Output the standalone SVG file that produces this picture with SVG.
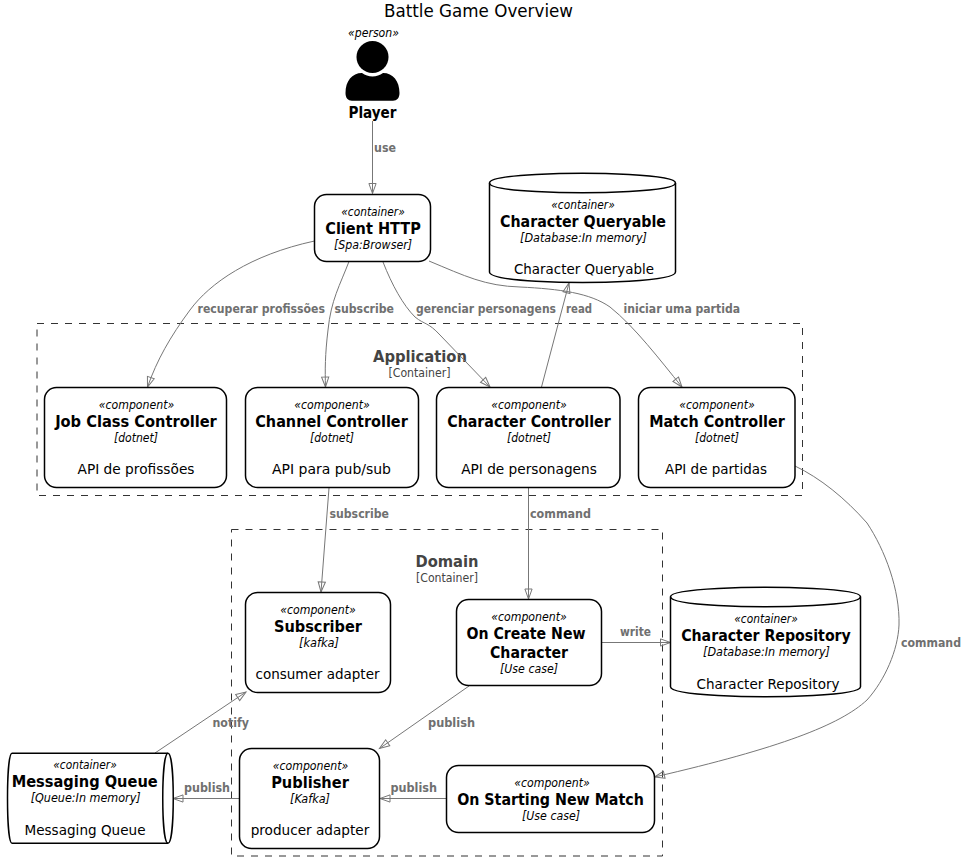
<svg xmlns="http://www.w3.org/2000/svg" width="968" height="861" viewBox="0 0 968 861">
<style>
text{font-family:"DejaVu Sans","Liberation Sans",sans-serif;text-anchor:middle;fill:#000}
.title{font-size:18px}
.st{font-size:12px;font-style:italic}
.nm{font-size:16px;font-weight:bold;font-stretch:condensed}
.te{font-size:12px;font-style:italic}
.de{font-size:14px}
.lb{font-size:12px;font-weight:bold;font-stretch:condensed;fill:#707070;text-anchor:start}
.bt{font-size:16px;font-weight:bold;font-stretch:condensed;fill:#444}
.bs{font-size:12px;fill:#444}
.box{fill:#fff;stroke:#000;stroke-width:1.5}
.frame{fill:none;stroke:#333;stroke-width:1;stroke-dasharray:7 7}
.c{fill:none;stroke:#777;stroke-width:1;marker-end:url(#a)}
</style>
<defs>
<marker id="a" markerUnits="userSpaceOnUse" markerWidth="14" markerHeight="12" refX="11" refY="5" orient="auto">
<path d="M1,1.4 L11,5 L1,8.6 Z" fill="none" stroke="#777" stroke-width="1"/>
</marker>
</defs>
<rect width="968" height="861" fill="#fff"/>
<text class="title" x="478.5" y="17" textLength="189" lengthAdjust="spacingAndGlyphs">Battle Game Overview</text>

<g id="boundary-application">
<rect class="frame" x="37" y="323.5" width="765.5" height="172"/>
<text class="bt" x="420" y="362" textLength="94" lengthAdjust="spacingAndGlyphs">Application</text>
<text class="bs" x="419.5" y="377" textLength="62" lengthAdjust="spacingAndGlyphs">[Container]</text>
</g>
<g id="boundary-domain">
<rect class="frame" x="231.5" y="529.5" width="431" height="326.5"/>
<text class="bt" x="447" y="567" textLength="63" lengthAdjust="spacingAndGlyphs">Domain</text>
<text class="bs" x="447" y="582" textLength="62" lengthAdjust="spacingAndGlyphs">[Container]</text>
</g>

<g id="connectors">
<path class="c" d="M372.5,121 L372.5,193.5"/>
<path class="c" d="M314.5,241 C250,255 210,283 190,310 C170,337 157,360 147.5,387"/>
<path class="c" d="M349,261.5 C340,285 331,300 328,330 C325,355 325,370 325.5,387"/>
<path class="c" d="M383,262 C392,285 403,305 415,317 C425,325 428,322 440,335 L490,387"/>
<path class="c" d="M429,261 C465,276 485,286 520,287 C560,289 590,293 610,307 C635,327 660,360 682,387"/>
<path class="c" d="M541.5,387 L569,283"/>
<path class="c" d="M329,488 L321,592"/>
<path class="c" d="M528.5,488 L528.5,599"/>
<path class="c" d="M602,642.5 L670.5,642.5"/>
<path class="c" d="M469,686 L379.5,748.5"/>
<path class="c" d="M446,798.5 L380,798.5"/>
<path class="c" d="M239,798.5 L173,798.5"/>
<path class="c" d="M155,753 L246,692"/>
<path class="c" d="M795,466 C820,478 845,498 867,523 C885,550 900,590 899,625 C898,650 885,680 867,700 C840,725 780,748 654.5,777"/>
<text class="lb" x="374" y="152" textLength="22" lengthAdjust="spacingAndGlyphs">use</text>
<text class="lb" x="197.5" y="313" textLength="127.5" lengthAdjust="spacingAndGlyphs">recuperar profissões</text>
<text class="lb" x="334.5" y="313" textLength="59.5" lengthAdjust="spacingAndGlyphs">subscribe</text>
<text class="lb" x="416" y="313" textLength="140" lengthAdjust="spacingAndGlyphs">gerenciar personagens</text>
<text class="lb" x="566" y="313" textLength="26" lengthAdjust="spacingAndGlyphs">read</text>
<text class="lb" x="623.5" y="313" textLength="116.5" lengthAdjust="spacingAndGlyphs">iniciar uma partida</text>
<text class="lb" x="329.5" y="518" textLength="59.5" lengthAdjust="spacingAndGlyphs">subscribe</text>
<text class="lb" x="530" y="518" textLength="61" lengthAdjust="spacingAndGlyphs">command</text>
<text class="lb" x="620" y="636" textLength="31" lengthAdjust="spacingAndGlyphs">write</text>
<text class="lb" x="901" y="647" textLength="60" lengthAdjust="spacingAndGlyphs">command</text>
<text class="lb" x="428" y="727" textLength="47" lengthAdjust="spacingAndGlyphs">publish</text>
<text class="lb" x="212.5" y="727" textLength="36.5" lengthAdjust="spacingAndGlyphs">notify</text>
<text class="lb" x="184" y="792" textLength="46" lengthAdjust="spacingAndGlyphs">publish</text>
<text class="lb" x="390.5" y="792" textLength="46.5" lengthAdjust="spacingAndGlyphs">publish</text>
</g>

<g id="player">
<text class="st" x="373.5" y="37" textLength="51" lengthAdjust="spacingAndGlyphs">«person»</text>
<circle cx="372.5" cy="57" r="16"/>
<path d="M345.5,93 C345.5,81 352,73 362,73 A18,18 0 0 0 383,73 C393,73 399.5,81 399.5,93 C399.5,98 397,100.7 393,100.7 L352,100.7 C348,100.7 345.5,98 345.5,93 Z"/>
<text class="nm" x="372.5" y="118" textLength="48" lengthAdjust="spacingAndGlyphs">Player</text>
</g>

<g id="client-http">
<rect class="box" x="314.5" y="194.5" width="116" height="67" rx="12"/>
<text class="st" x="373" y="216" textLength="63.5" lengthAdjust="spacingAndGlyphs">«container»</text>
<text class="nm" x="373" y="234" textLength="95.5" lengthAdjust="spacingAndGlyphs">Client HTTP</text>
<text class="te" x="373" y="249" textLength="78" lengthAdjust="spacingAndGlyphs">[Spa:Browser]</text>
</g>

<g id="character-queryable">
<path class="box" d="M489.5,183 C489.5,173.3 582.5,173.3 582.5,173.3 C582.5,173.3 675.5,173.3 675.5,183 L675.5,272 C675.5,282.5 582.5,282.5 582.5,282.5 C582.5,282.5 489.5,282.5 489.5,272 Z"/>
<path class="box" style="fill:none" d="M489.5,183 C489.5,192.7 582.5,192.7 582.5,192.7 C582.5,192.7 675.5,192.7 675.5,183"/>
<text class="st" x="583" y="209" textLength="63.5" lengthAdjust="spacingAndGlyphs">«container»</text>
<text class="nm" x="583" y="227" textLength="166" lengthAdjust="spacingAndGlyphs">Character Queryable</text>
<text class="te" x="583.5" y="242" textLength="127" lengthAdjust="spacingAndGlyphs">[Database:In memory]</text>
<text class="de" x="584" y="274" textLength="140" lengthAdjust="spacingAndGlyphs">Character Queryable</text>
</g>

<g id="job-class-controller">
<rect class="box" x="44.5" y="387.5" width="182" height="100" rx="12"/>
<text class="st" x="136.5" y="409" textLength="75.5" lengthAdjust="spacingAndGlyphs">«component»</text>
<text class="nm" x="136" y="427" textLength="161.7" lengthAdjust="spacingAndGlyphs">Job Class Controller</text>
<text class="te" x="136" y="442" textLength="44" lengthAdjust="spacingAndGlyphs">[dotnet]</text>
<text class="de" x="136" y="474" textLength="117" lengthAdjust="spacingAndGlyphs">API de profissões</text>
</g>

<g id="channel-controller">
<rect class="box" x="245.5" y="387.5" width="173" height="100" rx="12"/>
<text class="st" x="332" y="409" textLength="75.5" lengthAdjust="spacingAndGlyphs">«component»</text>
<text class="nm" x="331.5" y="427" textLength="152.5" lengthAdjust="spacingAndGlyphs">Channel Controller</text>
<text class="te" x="332" y="442" textLength="44" lengthAdjust="spacingAndGlyphs">[dotnet]</text>
<text class="de" x="331.5" y="474" textLength="119" lengthAdjust="spacingAndGlyphs">API para pub/sub</text>
</g>

<g id="character-controller">
<rect class="box" x="436.5" y="387.5" width="183.5" height="100" rx="12"/>
<text class="st" x="529" y="409" textLength="75.5" lengthAdjust="spacingAndGlyphs">«component»</text>
<text class="nm" x="529" y="427" textLength="163.4" lengthAdjust="spacingAndGlyphs">Character Controller</text>
<text class="te" x="529" y="442" textLength="44" lengthAdjust="spacingAndGlyphs">[dotnet]</text>
<text class="de" x="529" y="474" textLength="135.7" lengthAdjust="spacingAndGlyphs">API de personagens</text>
</g>

<g id="match-controller">
<rect class="box" x="638.5" y="387.5" width="156.5" height="100" rx="12"/>
<text class="st" x="717" y="409" textLength="75.5" lengthAdjust="spacingAndGlyphs">«component»</text>
<text class="nm" x="717" y="427" textLength="135.7" lengthAdjust="spacingAndGlyphs">Match Controller</text>
<text class="te" x="717" y="442" textLength="44" lengthAdjust="spacingAndGlyphs">[dotnet]</text>
<text class="de" x="716" y="474" textLength="102" lengthAdjust="spacingAndGlyphs">API de partidas</text>
</g>

<g id="subscriber">
<rect class="box" x="245.5" y="592.5" width="145" height="100" rx="12"/>
<text class="st" x="318" y="614" textLength="75.5" lengthAdjust="spacingAndGlyphs">«component»</text>
<text class="nm" x="318" y="632" textLength="88" lengthAdjust="spacingAndGlyphs">Subscriber</text>
<text class="te" x="319" y="647" textLength="40" lengthAdjust="spacingAndGlyphs">[kafka]</text>
<text class="de" x="317.5" y="679" textLength="124" lengthAdjust="spacingAndGlyphs">consumer adapter</text>
</g>

<g id="on-create-new-character">
<rect class="box" x="456.5" y="599.5" width="145" height="86" rx="12"/>
<text class="st" x="529" y="621" textLength="75.5" lengthAdjust="spacingAndGlyphs">«component»</text>
<text class="nm" x="526" y="639" textLength="119" lengthAdjust="spacingAndGlyphs">On Create New</text>
<text class="nm" x="529" y="658" textLength="78" lengthAdjust="spacingAndGlyphs">Character</text>
<text class="te" x="529" y="673" textLength="58" lengthAdjust="spacingAndGlyphs">[Use case]</text>
</g>

<g id="character-repository">
<path class="box" d="M670.5,596.7 C670.5,587.3 765.5,587.3 765.5,587.3 C765.5,587.3 860.5,587.3 860.5,596.7 L860.5,686.7 C860.5,696.7 765.5,696.7 765.5,696.7 C765.5,696.7 670.5,696.7 670.5,686.7 Z"/>
<path class="box" style="fill:none" d="M670.5,596.7 C670.5,606.7 765.5,606.7 765.5,606.7 C765.5,606.7 860.5,606.7 860.5,596.7"/>
<text class="st" x="766" y="623" textLength="63.5" lengthAdjust="spacingAndGlyphs">«container»</text>
<text class="nm" x="766" y="641" textLength="169.7" lengthAdjust="spacingAndGlyphs">Character Repository</text>
<text class="te" x="766.5" y="656" textLength="127" lengthAdjust="spacingAndGlyphs">[Database:In memory]</text>
<text class="de" x="768" y="689" textLength="143" lengthAdjust="spacingAndGlyphs">Character Repository</text>
</g>

<g id="publisher">
<rect class="box" x="239.5" y="748.5" width="140" height="100" rx="12"/>
<text class="st" x="310.5" y="770" textLength="75.5" lengthAdjust="spacingAndGlyphs">«component»</text>
<text class="nm" x="310" y="788" textLength="77.7" lengthAdjust="spacingAndGlyphs">Publisher</text>
<text class="te" x="310" y="803" textLength="40" lengthAdjust="spacingAndGlyphs">[Kafka]</text>
<text class="de" x="310" y="835" textLength="118.7" lengthAdjust="spacingAndGlyphs">producer adapter</text>
</g>

<g id="on-starting-new-match">
<rect class="box" x="446.5" y="765.5" width="208" height="67" rx="12"/>
<text class="st" x="552" y="787" textLength="75.5" lengthAdjust="spacingAndGlyphs">«component»</text>
<text class="nm" x="550.5" y="805" textLength="186.7" lengthAdjust="spacingAndGlyphs">On Starting New Match</text>
<text class="te" x="551" y="820" textLength="58" lengthAdjust="spacingAndGlyphs">[Use case]</text>
</g>

<g id="messaging-queue">
<path class="box" d="M12,753.3 L168,753.3 C175,753.3 175,843.3 168,843.3 L12,843.3 C6,843.3 6,753.3 12,753.3 Z"/>
<path class="box" style="fill:none" d="M168,753.3 C161,753.3 161,843.3 168,843.3"/>
<text class="st" x="85" y="769" textLength="63.5" lengthAdjust="spacingAndGlyphs">«container»</text>
<text class="nm" x="84.7" y="787" textLength="146" lengthAdjust="spacingAndGlyphs">Messaging Queue</text>
<text class="te" x="85.7" y="802" textLength="110" lengthAdjust="spacingAndGlyphs">[Queue:In memory]</text>
<text class="de" x="85" y="835" textLength="121" lengthAdjust="spacingAndGlyphs">Messaging Queue</text>
</g>
</svg>
